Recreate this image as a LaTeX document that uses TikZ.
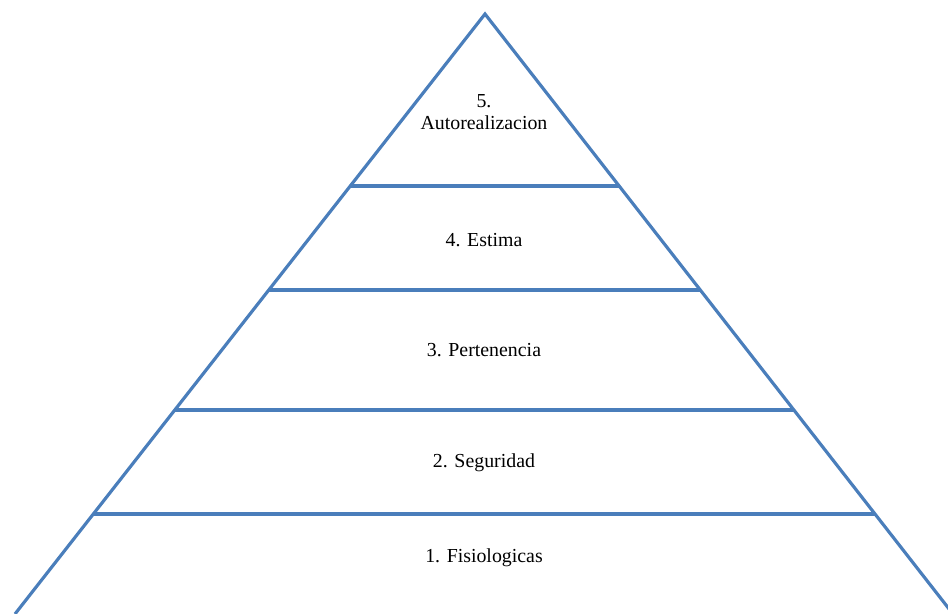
\documentclass[tikz,border=0pt]{standalone}
\usepackage{fontspec}
\setmainfont{Liberation Serif}
\usepackage{xcolor}
\usetikzlibrary{calc}
\definecolor{tierblue}{RGB}{74,126,187}
\tikzset{
  tier/.style={draw=tierblue,line width=1.8pt},
  level/.style={font=\fontsize{11.3}{12.2}\selectfont,align=center,inner sep=0pt}
}

\begin{document}
\begin{tikzpicture}[x=0.02cm,y=-0.02cm]
  \useasboundingbox (0,0) rectangle (948,614);
  \clip (0,0) rectangle (948,614);
  \coordinate (apex) at (485,14);
  \coordinate (baseL) at (15,614);
  \coordinate (baseR) at (953,614);
  \draw[tier] (baseL) -- (apex) -- (baseR);
  \foreach \t in {0.2867,0.46,0.66,0.8333} {\draw[tier] ($(apex)!\t!(baseL)$) -- ($(apex)!\t!(baseR)$);}
  \node[level] (auto) at (484,112) {5.\\Autorealizacion};
  \node[level] (estima) at (484,240) {4. Estima};
  \node[level] (pert) at (484,350) {3. Pertenencia};
  \node[level] (seg) at (484,463) {2. Seguridad};
  \node[level] (fisio) at (484,558) {1. Fisiologicas};
\end{tikzpicture}
\end{document}
